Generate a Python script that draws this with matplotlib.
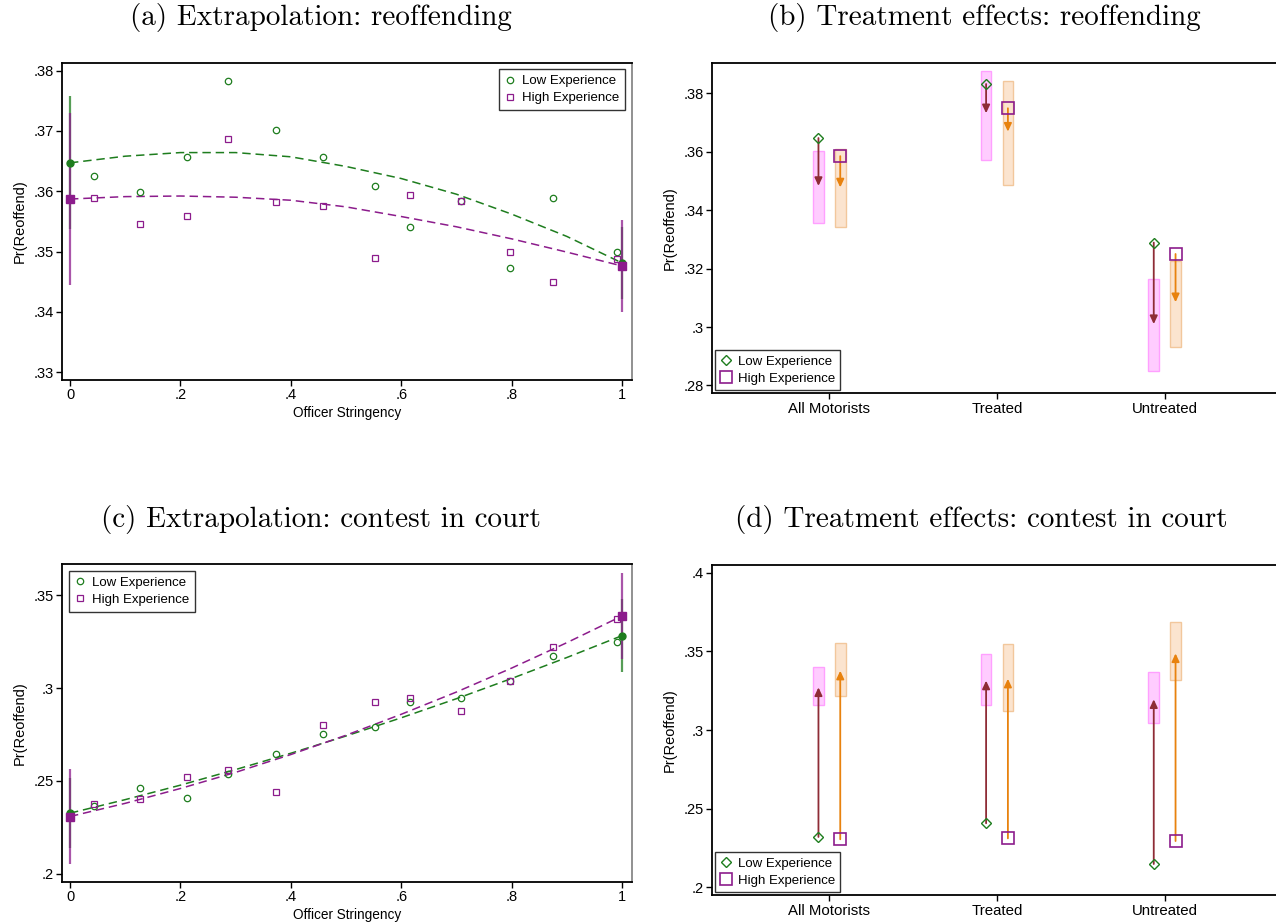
import matplotlib
matplotlib.use('Agg')
import matplotlib.pyplot as plt
from matplotlib.lines import Line2D
import numpy as np

plt.rcParams['font.family'] = ['Liberation Sans', 'DejaVu Sans']

# ---------------- data ----------------
# binned officer stringency (x of the scatter points)
stringency = [0.043, 0.126, 0.212, 0.287, 0.373, 0.459, 0.552, 0.616, 0.708, 0.797, 0.875, 0.991]

# reoffending rate by bin
reoff_low = [.3625, .3598, .3657, .3782, .3702, .3657, .3609, .3540, .3583, .3473, .3589, .3499]
reoff_high = [.3588, .3545, .3559, .3687, .3582, .3575, .3490, .3594, .3583, .3500, .3449, .3487]

# contest-in-court rate by bin
contest_low = [.2367, .2460, .2407, .2538, .2647, .2755, .2792, .2923, .2948, .3038, .3173, .3250]
contest_high = [.2374, .2405, .2520, .2559, .2439, .2803, .2923, .2945, .2878, .3038, .3223, .3371]

# fitted curves on a grid of stringency values
fit_x = [0.0, 0.1, 0.2, 0.3, 0.4, 0.5, 0.6, 0.7, 0.8, 0.9, 1.0]
reoff_fit_low = [.3647, .3658, .3664, .3664, .3657, .3641, .3621, .3595, .3562, .3525, .3481]
reoff_fit_high = [.3587, .3591, .3592, .3590, .3585, .3574, .3558, .3541, .3521, .3499, .3476]
contest_fit_low = [.2326, .2399, .2477, .2561, .2649, .2742, .2840, .2943, .3052, .3165, .3283]
contest_fit_high = [.2308, .2379, .2459, .2546, .2642, .2746, .2859, .2979, .3108, .3245, .3389]

# extrapolated endpoints (stringency 0 and 1) with CI half-widths
end_x = [0.0, 1.0]
reoff_end_low = [.3647, .3481]
reoff_end_low_half = [.0110, .0060]
reoff_end_high = [.3587, .3476]
reoff_end_high_half = [.0143, .0077]
contest_end_low = [.2326, .3283]
contest_end_low_half = [.0190, .0198]
contest_end_high = [.2308, .3389]
contest_end_high_half = [.0254, .0233]

# treatment effects
groups = ['All Motorists', 'Treated', 'Untreated']

reoff_low_start = [.3647, .3832, .3289]
reoff_low_end = [.3483, .3732, .3010]
reoff_low_ci_lo = [.3357, .3572, .2848]
reoff_low_ci_hi = [.3601, .3875, .3163]
reoff_high_start = [.3585, .3749, .3250]
reoff_high_end = [.3478, .3669, .3085]
reoff_high_ci_lo = [.3343, .3485, .2932]
reoff_high_ci_hi = [.3608, .3841, .3226]

contest_low_start = [.2320, .2407, .2148]
contest_low_end = [.3271, .3314, .3195]
contest_low_ci_lo = [.3161, .3161, .3042]
contest_low_ci_hi = [.3403, .3481, .3367]
contest_high_start = [.2305, .2311, .2294]
contest_high_end = [.3377, .3326, .3487]
contest_high_ci_lo = [.3218, .3123, .3316]
contest_high_ci_hi = [.3551, .3544, .3684]

# ---------------- style ----------------
GREEN = '#1e7d1e'
PURPLE = '#8c1c8c'
CRANBERRY = '#8e2c36'
ORANGE = '#e8820e'
PINK_FILL = '#ffccff'
PINK_EDGE = '#ffa0ff'
TAN_FILL = '#fbe4cf'
TAN_EDGE = '#f2c79c'
TICK_FS = 10.5
LABEL_FS = 9.8


def short_label(v):
    s = f'{v:.2f}'.rstrip('0').rstrip('.')
    if s.startswith('0.'):
        s = s[1:]
    return s


def style_axes(ax, xticks, xlabels, yticks, xtick_fs):
    for side in ['left', 'bottom', 'top']:
        ax.spines[side].set_linewidth(1.3)
        ax.spines[side].set_color('black')
    ax.spines['right'].set_linewidth(1.3)
    ax.spines['right'].set_color('#888888')
    ax.set_xticks(xticks)
    ax.set_xticklabels(xlabels, fontsize=xtick_fs)
    ax.set_yticks(yticks)
    ax.set_yticklabels([short_label(v) for v in yticks], fontsize=TICK_FS)
    ax.tick_params(direction='out', length=4, width=1, pad=2)
    ax.set_ylabel('Pr(Reoffend)', fontsize=10.5, labelpad=5)


def extrap_panel(ax, low, high, fit_low, fit_high, e_low, h_low, e_high, h_high,
                 ylim, yticks, legend_loc):
    dash = (0, (5.5, 3.2))
    ax.plot(fit_x, fit_low, ls=dash, color=GREEN, lw=1.1, zorder=2)
    ax.plot(fit_x, fit_high, ls=dash, color=PURPLE, lw=1.1, zorder=2)
    ax.plot(stringency, low, ls='none', marker='o', ms=4.6, mfc='none',
            mec=GREEN, mew=0.9, zorder=3)
    ax.plot(stringency, high, ls='none', marker='s', ms=4.6, mfc='none',
            mec=PURPLE, mew=0.9, zorder=3)
    e_low = np.asarray(e_low)
    e_high = np.asarray(e_high)
    ax.vlines(end_x, e_low - np.asarray(h_low), e_low + np.asarray(h_low),
              color=GREEN, lw=1.6, alpha=0.75, zorder=4)
    ax.vlines(end_x, e_high - np.asarray(h_high), e_high + np.asarray(h_high),
              color=PURPLE, lw=1.6, alpha=0.75, zorder=4)
    ax.plot(end_x, e_low, ls='none', marker='o', ms=5, color=GREEN, zorder=5)
    ax.plot(end_x, e_high, ls='none', marker='s', ms=5.5, color=PURPLE, zorder=5)
    ax.set_xlim(-0.0145, 1.018)
    ax.set_ylim(*ylim)
    xt = [0, .2, .4, .6, .8, 1]
    style_axes(ax, xt, [short_label(v) for v in xt], yticks, TICK_FS)
    ax.set_xlabel('Officer Stringency', fontsize=LABEL_FS, labelpad=3)
    handles = [
        Line2D([], [], ls='none', marker='o', ms=4.6, mfc='none', mec=GREEN, mew=0.9),
        Line2D([], [], ls='none', marker='s', ms=4.6, mfc='none', mec=PURPLE, mew=0.9),
    ]
    leg = ax.legend(handles, ['Low Experience', 'High Experience'], loc=legend_loc,
                    fontsize=9.5, frameon=True, fancybox=False, handlelength=0.8,
                    handletextpad=0.5, borderpad=0.45, labelspacing=0.35,
                    borderaxespad=0.5)
    leg.get_frame().set_edgecolor('black')
    leg.get_frame().set_linewidth(1.0)


def effects_panel(ax, l_start, l_end, l_lo, l_hi, h_start, h_end, h_lo, h_hi,
                  ylim, yticks):
    pos = np.arange(1, len(groups) + 1)
    off = 0.065
    width = 0.064
    ax.bar(pos - off, np.subtract(l_hi, l_lo), bottom=l_lo, width=width,
           color=PINK_FILL, edgecolor=PINK_EDGE, lw=1.0, zorder=1)
    ax.bar(pos + off, np.subtract(h_hi, h_lo), bottom=h_lo, width=width,
           color=TAN_FILL, edgecolor=TAN_EDGE, lw=1.0, zorder=1)
    for x, a, b in zip(pos - off, l_start, l_end):
        ax.annotate('', xy=(x, b), xytext=(x, a),
                    arrowprops=dict(arrowstyle='-|>,head_length=0.6,head_width=0.28',
                                    color=CRANBERRY, lw=1.3, shrinkA=0, shrinkB=0,
                                    mutation_scale=8), zorder=3)
    for x, a, b in zip(pos + off, h_start, h_end):
        ax.annotate('', xy=(x, b), xytext=(x, a),
                    arrowprops=dict(arrowstyle='-|>,head_length=0.6,head_width=0.28',
                                    color=ORANGE, lw=1.3, shrinkA=0, shrinkB=0,
                                    mutation_scale=8), zorder=3)
    ax.plot(pos - off, l_start, ls='none', marker='D', ms=5, mfc='none', mec=GREEN,
            mew=1.0, zorder=4)
    ax.plot(pos + off, h_start, ls='none', marker='s', ms=8, mfc='none', mec=PURPLE,
            mew=1.2, zorder=4)
    ax.set_xlim(0.3, 3.7)
    ax.set_ylim(*ylim)
    style_axes(ax, pos, groups, yticks, 10.8)
    ax.spines['right'].set_visible(False)
    handles = [
        Line2D([], [], ls='none', marker='D', ms=5, mfc='none', mec=GREEN, mew=1.0),
        Line2D([], [], ls='none', marker='s', ms=8, mfc='none', mec=PURPLE, mew=1.2),
    ]
    leg = ax.legend(handles, ['Low Experience', 'High Experience'], loc='lower left',
                    fontsize=9.5, frameon=True, fancybox=False, handlelength=0.8,
                    handletextpad=0.5, borderpad=0.4, labelspacing=0.35,
                    borderaxespad=0.25)
    leg.get_frame().set_edgecolor('black')
    leg.get_frame().set_linewidth(1.0)


fig = plt.figure(figsize=(12.76, 9.24), dpi=100)
W, H = 1276.0, 924.0


def axes_px(left, top, right, bottom):
    return fig.add_axes([left / W, 1 - bottom / H, (right - left) / W, (bottom - top) / H])


ax_a = axes_px(62, 62.7, 632, 380)
ax_b = axes_px(712, 62.7, 1282, 393.3)
ax_c = axes_px(62, 564, 632, 882)
ax_d = axes_px(712, 564.7, 1282, 895.3)

extrap_panel(ax_a, reoff_low, reoff_high, reoff_fit_low, reoff_fit_high,
             reoff_end_low, reoff_end_low_half, reoff_end_high, reoff_end_high_half,
             (.3287, .3813), [.33, .34, .35, .36, .37, .38], 'upper right')
extrap_panel(ax_c, contest_low, contest_high, contest_fit_low, contest_fit_high,
             contest_end_low, contest_end_low_half, contest_end_high, contest_end_high_half,
             (.1955, .3669), [.2, .25, .3, .35], 'upper left')
effects_panel(ax_b, reoff_low_start, reoff_low_end, reoff_low_ci_lo, reoff_low_ci_hi,
              reoff_high_start, reoff_high_end, reoff_high_ci_lo, reoff_high_ci_hi,
              (.2773, .3905), [.28, .30, .32, .34, .36, .38])
effects_panel(ax_d, contest_low_start, contest_low_end, contest_low_ci_lo, contest_low_ci_hi,
              contest_high_start, contest_high_end, contest_high_ci_lo, contest_high_ci_hi,
              (.1949, .4051), [.2, .25, .3, .35, .4])

title_kw = dict(fontsize=21, family='cmr10', ha='center', va='center')
fig.text(321 / W, 1 - 18 / H, '(a) Extrapolation: reoffending', **title_kw)
fig.text(984 / W, 1 - 18 / H, '(b) Treatment effects: reoffending', **title_kw)
fig.text(321 / W, 1 - 520 / H, '(c) Extrapolation: contest in court', **title_kw)
fig.text(981 / W, 1 - 520 / H, '(d) Treatment effects: contest in court', **title_kw)

fig.savefig('out.png', dpi=100)
